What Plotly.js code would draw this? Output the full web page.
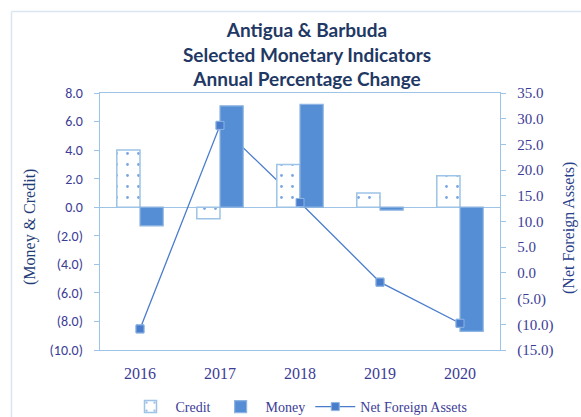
<!DOCTYPE html>
<html>
<head>
<meta charset="utf-8">
<script src="https://cdn.plot.ly/plotly-3.0.1.min.js"></script>
<style>
html,body{margin:0;padding:0;background:#fff;}
#chart{width:581px;height:417px;}
</style>
</head>
<body>
<div id="chart"></div>
<script>
const years = ['2016', '2017', '2018', '2019', '2020'];
const credit = [4.0, -0.8, 3.0, 1.0, 2.2];
const money = [-1.3, 7.1, 7.2, -0.2, -8.7];
const nfa = [-10.9, 28.7, 13.7, -1.8, -9.8];

const leftTickVals = [8, 6, 4, 2, 0, -2, -4, -6, -8, -10];
const leftTickText = ['8.0', '6.0', '4.0', '2.0', '0.0', '(2.0)', '(4.0)', '(6.0)', '(8.0)', '(10.0)'];
const rightTickVals = [35, 30, 25, 20, 15, 10, 5, 0, -5, -10, -15];
const rightTickText = ['35.0', '30.0', '25.0', '20.0', '15.0', '10.0', '5.0', '0.0', '(5.0)', '(10.0)', '(15.0)'];

const tickColor = '#3c3c96';
const axisLine = '#9dc3e6';
const moneyColor = '#558ed5';
const lineColor = '#4a7ccc';

const nfaMarker = {symbol: 'square', size: 8, color: lineColor, line: {color: '#8db4e2', width: 1}};

const traces = [
  {
    type: 'scatter', mode: 'lines+markers', name: 'Net Foreign Assets', x: years, y: nfa,
    yaxis: 'y', legendrank: 3, line: {color: lineColor, width: 1.3}, marker: nfaMarker
  },
  {
    type: 'bar', name: 'Credit', x: years, y: credit, yaxis: 'y2', legendrank: 1,
    marker: {
      color: '#ffffff',
      line: {color: axisLine, width: 1.5},
      pattern: {shape: '.', fgcolor: '#7aa6e0', bgcolor: '#ffffff', size: 11, solidity: 0.05}
    }
  },
  {
    type: 'bar', name: 'Money', x: years, y: money, yaxis: 'y2', legendrank: 2,
    marker: {color: moneyColor, line: {color: '#8db4e2', width: 1.2}}
  },
  {
    type: 'scatter', mode: 'markers', name: 'Net Foreign Assets', x: years, y: nfa,
    yaxis: 'y3', showlegend: false, marker: nfaMarker
  }
];

const fr = (px) => (px - 100) / 400;
const fy = (py) => (350 - py) / 257;

const layout = {
  width: 581, height: 417,
  margin: {l: 100, r: 81, t: 93, b: 67, autoexpand: false},
  paper_bgcolor: '#ffffff', plot_bgcolor: '#ffffff',
  barmode: 'group', bargap: 0.42, bargroupgap: 0,
  showlegend: true,
  title: {
    text: 'Antigua & Barbuda<br>Selected Monetary Indicators<br>Annual Percentage Change',
    font: {family: 'Lato, "Open Sans", sans-serif', size: 19, color: '#1f3864', weight: 'bold'},
    x: 307 / 581, xanchor: 'center', y: 1 - 37 / 417, yanchor: 'top'
  },
  xaxis: {
    type: 'category', showgrid: false, zeroline: false, automargin: false,
    showline: true, mirror: true, linecolor: axisLine, linewidth: 1.3,
    ticks: 'outside', ticklen: 8, tickcolor: 'rgba(0,0,0,0)',
    tickfont: {family: '"Liberation Serif", "Times New Roman", serif', size: 16, color: tickColor}
  },
  yaxis: {
    side: 'right', range: [-15, 35], tickvals: rightTickVals, ticktext: rightTickText, automargin: false,
    showgrid: false, zeroline: false, showline: true, linecolor: axisLine, linewidth: 1.3,
    ticks: 'outside', ticklen: 5, tickcolor: axisLine, ticklabelstandoff: 8,
    tickfont: {family: '"Liberation Serif", "Times New Roman", serif', size: 15, color: tickColor}
  },
  yaxis2: {
    side: 'left', overlaying: 'y', range: [-10, 8], tickvals: leftTickVals, ticktext: leftTickText, automargin: false,
    showgrid: false, zeroline: true, zerolinecolor: axisLine, zerolinewidth: 1.3,
    showline: true, linecolor: axisLine, linewidth: 1.3,
    ticks: 'outside', ticklen: 5, tickcolor: axisLine, ticklabelstandoff: 8,
    tickfont: {family: '"Carlito", "Open Sans", "Liberation Sans", sans-serif', size: 14, color: tickColor}
  },
  yaxis3: {overlaying: 'y', range: [-15, 35], visible: false},
  legend: {
    orientation: 'h', x: fr(299), xanchor: 'center', y: fy(407), yanchor: 'middle',
    font: {family: '"Liberation Serif", "Times New Roman", serif', size: 14, color: tickColor},
    traceorder: 'normal', itemwidth: 40
  },
  annotations: [
    {text: '(Money & Credit)', xref: 'paper', yref: 'paper', x: fr(30), y: fy(227),
     textangle: -90, showarrow: false, xanchor: 'center', yanchor: 'middle',
     font: {family: '"Liberation Serif", "Times New Roman", serif', size: 16, color: '#1f3e78'}},
    {text: '(Net Foreign Assets)', xref: 'paper', yref: 'paper', x: fr(569), y: fy(228),
     textangle: -90, showarrow: false, xanchor: 'center', yanchor: 'middle',
     font: {family: '"Liberation Serif", "Times New Roman", serif', size: 16, color: '#2a3f8a'}}
  ],
  shapes: [
    {type: 'line', xref: 'paper', yref: 'paper', x0: fr(11.5), x1: fr(600), y0: fy(11.5), y1: fy(11.5),
     line: {color: '#dce6f2', width: 1.5}},
    {type: 'line', xref: 'paper', yref: 'paper', x0: fr(11.5), x1: fr(11.5), y0: fy(11.5), y1: fy(430),
     line: {color: '#dce6f2', width: 1.5}}
  ]
};

Plotly.newPlot('chart', traces, layout, {displayModeBar: false, staticPlot: true});
</script>
</body>
</html>
